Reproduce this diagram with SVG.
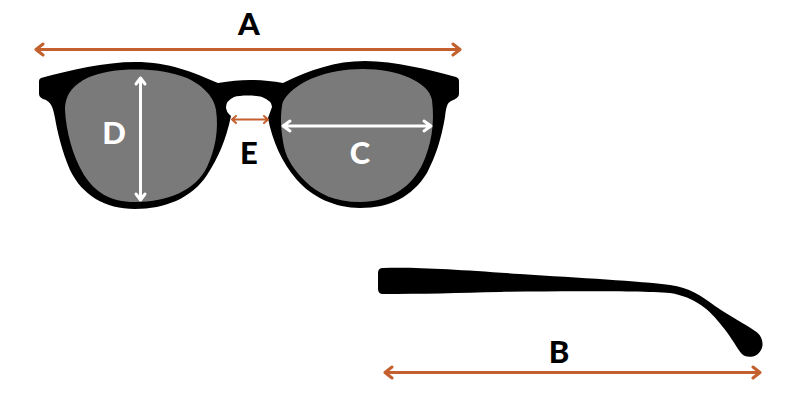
<svg xmlns="http://www.w3.org/2000/svg" width="800" height="400" viewBox="0 0 800 400">
<defs>
<style>
.o{fill:none;stroke:#c4602d;stroke-linecap:round;stroke-linejoin:round}
.w{fill:none;stroke:#fff;stroke-width:3;stroke-linecap:round;stroke-linejoin:round}
.k{font:900 31px Lato,"Liberation Sans",sans-serif;text-anchor:middle;fill:#000}
.l{font:900 31px Lato,"Liberation Sans",sans-serif;text-anchor:middle;fill:#fff}
</style>
</defs>
<rect width="800" height="400" fill="#fff"/>
<g id="front-frame">
<path fill="#000" d="M41 78C70 70 105 62 135 62C170 62 192 72 218 83C230 81 240 80 250 80C260 80 272 81 283 83C310 70 335 61 365 61C395 61 430 70 456 77Q459 78 459 81L459 94Q459 98 451 101C447 103 446 108 445 117C441 140 436 155 427 173C412 197 390 208 360 208C335 208 312 197 297 180C282 163 272 140 268 118L272 107Q272 101 262 97C255 95 240 95 234 97Q226 101 226 107Q226 112 231 116C226 140 218 158 207 175C192 198 165 209 135 209C105 209 82 195 70 170C62 152 57 130 55 118C53 108 52 104 46 100Q39 98 39 94L39 81Q39 79 41 78Z"/>
</g>
<g id="left-lens">
<path fill="#7a7a7a" d="M135 69.500C155 69.500 172 72 187 78C200 84 214 95 216 110C219 130 215 150 207 167C196 190 168 202 135 202C110 202 95 192 84 175C72 155 66 130 65 110C65 92 76 84 87 78C100 72 118 69.500 135 69.500Z"/>
</g>
<g id="right-lens">
<path fill="#7a7a7a" d="M363 69C380 69 397 72 410 78C422 84 430 90 432 100C435 125 431 145 423 163C412 187 390 202 360 202C335 202 318 194 305 181C295 171 287 160 284 147C281 130 280 120 282 106C283 95 300 83 313 78C328 72 345 69 363 69Z"/>
</g>
<g id="temple-arm">
<path fill="#000" d="M383 268C420 267 460 270 520 274C580 278 640 281 670 285C690 288 700 295 715 306C730 316 745 324 755 331C763 336 764 345 761 350C757 358 746 359 741 353C735 345 730 335 722 326C710 310 695 297 670 293C640 291 560 291 500 292C460 293 420 294 383 294Q378 294 378 289L378 273Q378 268 383 268Z"/>
</g>
<g id="connectors">
<g class="o" stroke-width="3">
<path d="M36 49.500H459M43 44L36 49.500L43 55M453 44L460 49.500L453 55"/>
<path d="M386 372.500H760M392 367L385 372.500L392 378M753 367L760 372.500L753 378"/>
</g>
<g class="o" stroke-width="2">
<path d="M232 119.500H268M236 116L232 119.500L236 123M264 116L268 119.500L264 123"/>
</g>
<path class="w" d="M140.500 78V200M136 84L140.500 78L145 84M136 194L140.500 200L145 194"/>
<path class="w" d="M283 126H431M290 121L283 126L290 131M424 121L431 126L424 131"/>
</g>
<g id="labels">
<text class="k" x="249" y="35">A</text>
<text class="k" x="559" y="363">B</text>
<text class="l" x="360" y="164">C</text>
<text class="l" x="114" y="144">D</text>
<text class="k" x="249" y="164">E</text>
</g>
</svg>
